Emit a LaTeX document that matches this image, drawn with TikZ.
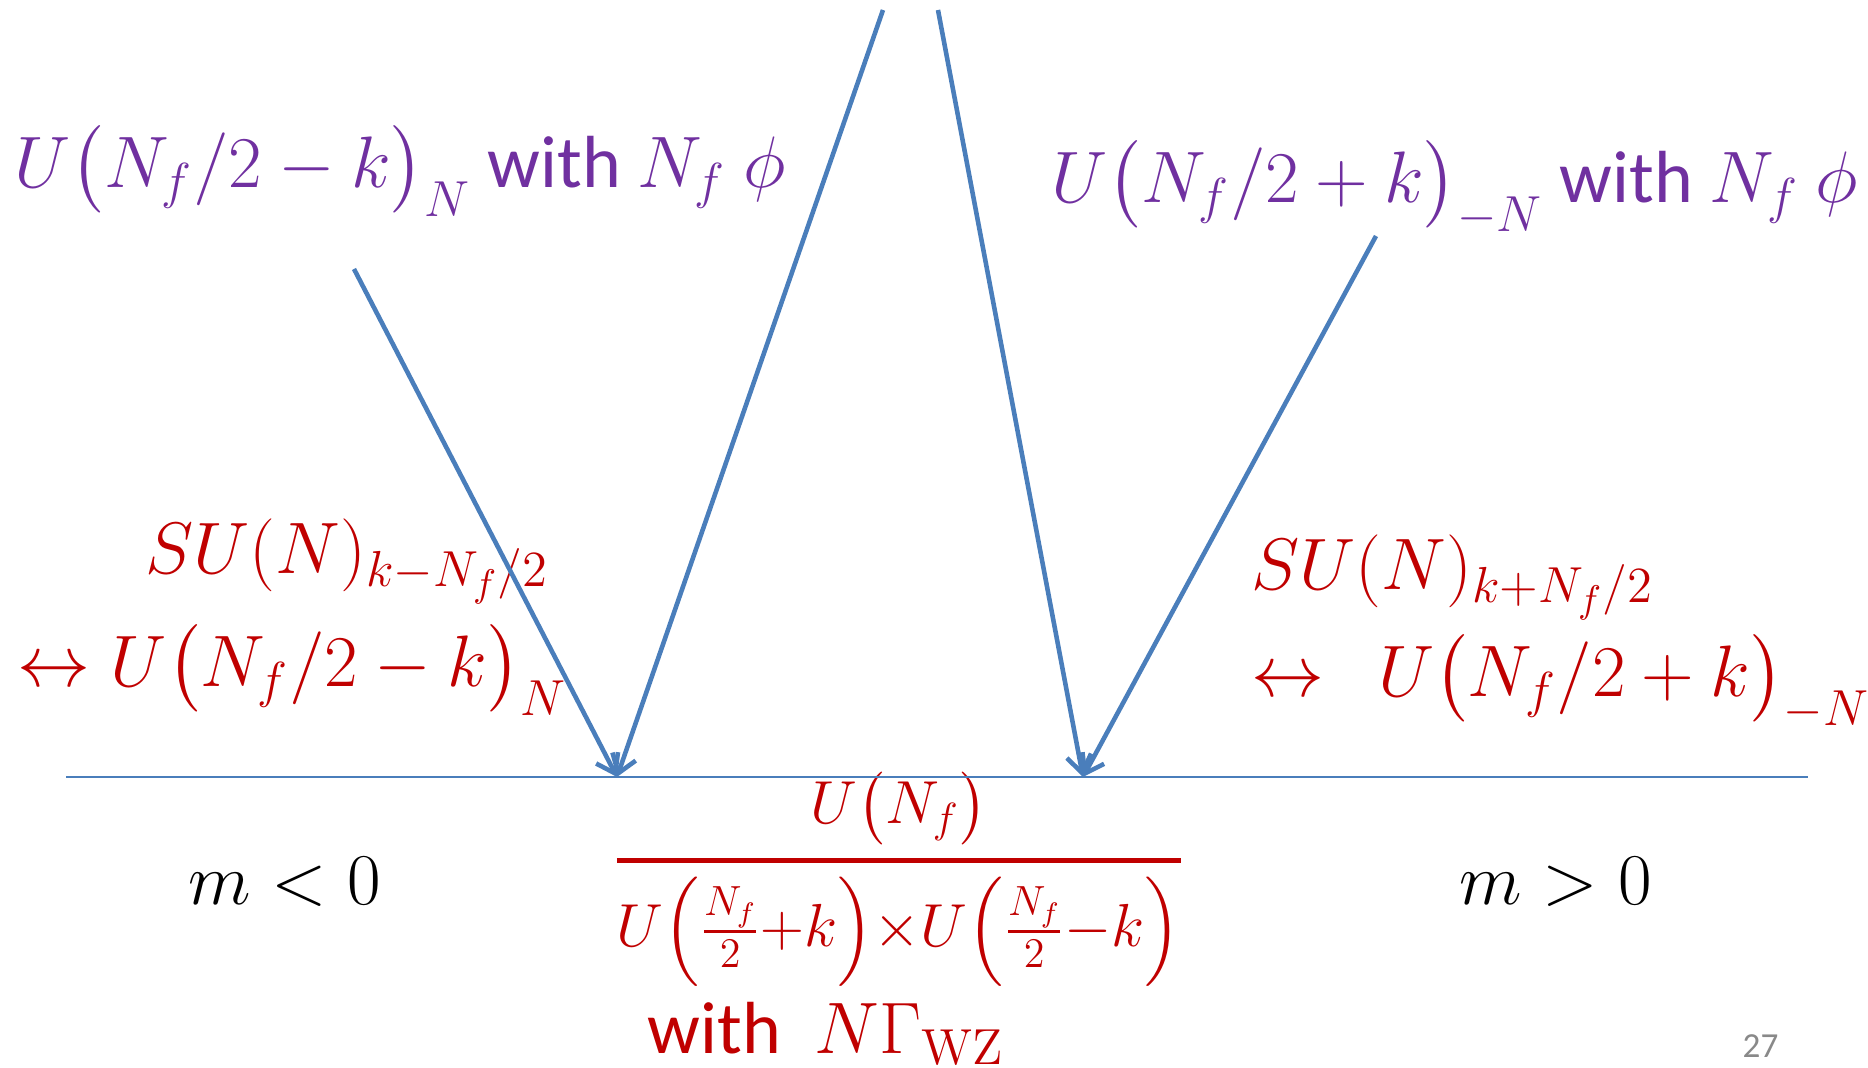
\documentclass[tikz,border=0pt]{standalone}
\usepackage{amsmath}
\usepackage[no-math]{fontspec}
\setmainfont{Carlito}
\usetikzlibrary{arrows.meta}
\definecolor{lblue}{RGB}{74,126,187}
\definecolor{lpurp}{RGB}{112,48,160}
\definecolor{lred}{RGB}{192,0,0}
\definecolor{lgray}{RGB}{137,137,137}

\begin{document}
\begin{tikzpicture}[x=0.01cm, y=-0.01cm,
  font=\fontsize{21}{25}\selectfont,
  lab/.style={inner sep=0pt, anchor=base west},
  pu/.style={lab, text=lpurp}, rd/.style={lab, text=lred},
  ar/.style={-{Straight Barb[length=5pt, width=7pt]}, draw=lblue, line width=1.3pt}]
\useasboundingbox (0,0) rectangle (1868,1068);

% --- theories at the top
\node[pu] (gl) at (14,188) {$U\big(N_f/2-k\big)_N$ with $N_f\ \phi$};
\node[pu] (gr) at (1051,203) {$U\big(N_f/2+k\big)_{-N}$ with $N_f\ \phi$};

% --- dual pairs
\node[rd] (sl) at (145,574) {$SU(N)_{k-N_f/2}$};
\node[rd] (ul) at (17,687) {$\leftrightarrow U\big(N_f/2-k\big)_N$};
\node[rd] (sr) at (1251,590) {$SU(N)_{k+N_f/2}$};
\node[rd] (ur) at (1251,697) {$\leftrightarrow\ \ U\big(N_f/2+k\big)_{-N}$};

% --- phases and the coset
\node[lab] (ml) at (188,905) {$m<0$};
\node[lab] (mr) at (1459,905) {$m>0$};
\node[text=lred, inner sep=0pt, font=\fontsize{16.5}{20}\selectfont] (cos) at (899,879)
  {$\genfrac{}{}{1.3pt}{0}{U\big(N_f\big)}{U\!\left(\frac{N_f}{2}{+}k\right)\!{\times}U\!\left(\frac{N_f}{2}{-}k\right)}$};
\node[rd] (wz) at (647,1054) {with\ \ $N\Gamma_{\mathrm{WZ}}$};
\node[lab, text=lgray, font=\fontsize{10}{12}\selectfont] (pg) at (1742,1058) {27};

% --- axis and flows
\coordinate (ax0) at (66,777); \coordinate (ax1) at (1808,777);
\coordinate (pL) at (617,777); \coordinate (pR) at (1083,777);
\coordinate (tL) at (883,10); \coordinate (tR) at (938,10);
\coordinate (fL) at (354,269); \coordinate (fR) at (1376,236);
\draw[lblue, line width=0.7pt] (ax0) -- (ax1);
\draw[ar] (fL) -- (pL); \draw[ar] (tL) -- (pL);
\draw[ar] (tR) -- (pR); \draw[ar] (fR) -- (pR);
\end{tikzpicture}
\end{document}
